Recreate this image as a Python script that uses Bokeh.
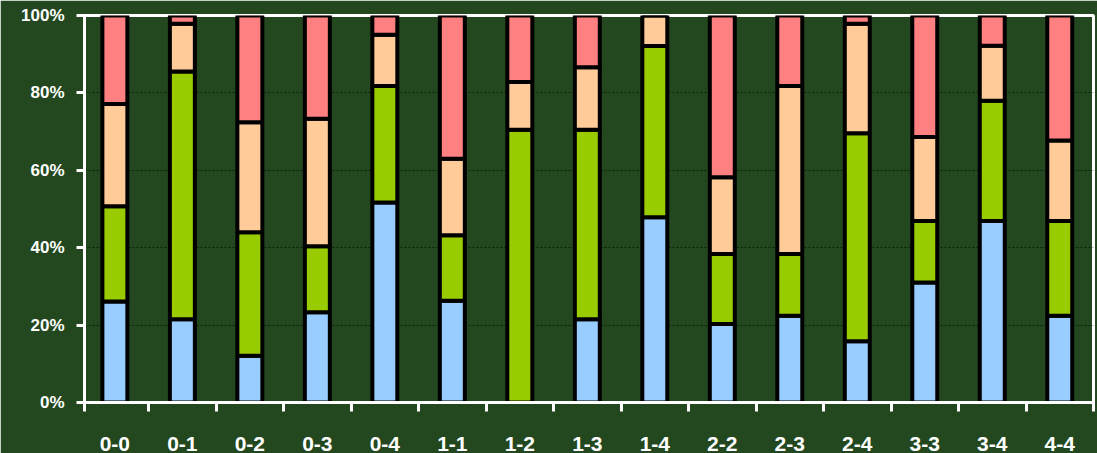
from bokeh.plotting import figure
from bokeh.models import FixedTicker, NumeralTickFormatter, Range1d, ColumnDataSource
from bokeh.embed import file_html
from bokeh.resources import INLINE

categories = ["0-0", "0-1", "0-2", "0-3", "0-4", "1-1", "1-2", "1-3", "1-4",
              "2-2", "2-3", "2-4", "3-3", "3-4", "4-4"]
blue  = [26.1, 21.5, 12.1, 23.3, 51.7, 26.3, 0.0, 21.5, 47.9, 20.3, 22.4, 15.8, 31.0, 46.9, 22.4]
green = [24.6, 64.0, 31.9, 17.1, 30.1, 16.9, 70.5, 49.0, 44.2, 18.1, 16.0, 53.8, 15.9, 31.1, 24.5]
peach = [26.4, 12.4, 28.4, 32.9, 13.2, 19.8, 12.3, 16.1, 7.9, 19.8, 43.4, 28.3, 21.7, 14.2, 20.8]
pink  = [22.9, 2.1, 27.6, 26.7, 5.0, 37.0, 17.2, 13.4, 0.0, 41.8, 18.2, 2.1, 31.4, 7.8, 32.3]
y_ticks = [0, 0.2, 0.4, 0.6, 0.8, 1.0]

series = ["blue", "green", "peach", "pink"]
colors = ["#99CCFF", "#99CC00", "#FFCC99", "#FF8080"]
bg = "#23481F"

n = len(categories)
x_start = 0.05
xs = [i + 0.5 for i in range(n)]
src = ColumnDataSource(dict(
    x=xs,
    blue=[v / 100 for v in blue],
    green=[v / 100 for v in green],
    peach=[v / 100 for v in peach],
    pink=[v / 100 for v in pink],
))

p = figure(width=1097, height=453, x_range=Range1d(x_start, n), y_range=Range1d(0, 1),
           output_backend="svg", toolbar_location=None,
           min_border_left=84, min_border_right=4, min_border_top=15, min_border_bottom=51)
p.background_fill_color = bg
p.border_fill_color = bg
p.outline_line_color = "white"
p.outline_line_width = 3

p.vbar_stack(series, x="x", width=0.37, fill_color=colors, line_color="black",
             line_width=4, source=src)

# x axis
p.xaxis.ticker = FixedTicker(ticks=xs, minor_ticks=[x_start] + list(range(1, n + 1)))
p.xaxis.major_label_overrides = {xs[i]: categories[i] for i in range(n)}
p.xaxis.major_tick_out = 0
p.xaxis.major_tick_in = 0
p.xaxis.minor_tick_out = 9
p.xaxis.minor_tick_in = 0
p.xaxis.minor_tick_line_color = "white"
p.xaxis.minor_tick_line_width = 3
p.xaxis.major_label_standoff = 25
p.xaxis.major_label_text_font_size = "21px"

# y axis
p.yaxis.ticker = FixedTicker(ticks=y_ticks, minor_ticks=[])
p.yaxis.formatter = NumeralTickFormatter(format="0%")
p.yaxis.major_tick_out = 8
p.yaxis.major_tick_in = 0
p.yaxis.major_tick_line_color = "white"
p.yaxis.major_tick_line_width = 3
p.yaxis.major_label_standoff = 12
p.yaxis.major_label_text_font_size = "17px"

for ax in (p.xaxis, p.yaxis):
    ax.axis_line_color = "white"
    ax.axis_line_width = 3
    ax.major_label_text_color = "white"
    ax.major_label_text_font = "Liberation Sans"
    ax.major_label_text_font_style = "bold"

p.xgrid.visible = False
p.ygrid.grid_line_color = "black"
p.ygrid.grid_line_alpha = 0.6
p.ygrid.grid_line_dash = "2 2"
p.ygrid.grid_line_width = 1

open("out.html", "w").write(file_html(p, INLINE))
